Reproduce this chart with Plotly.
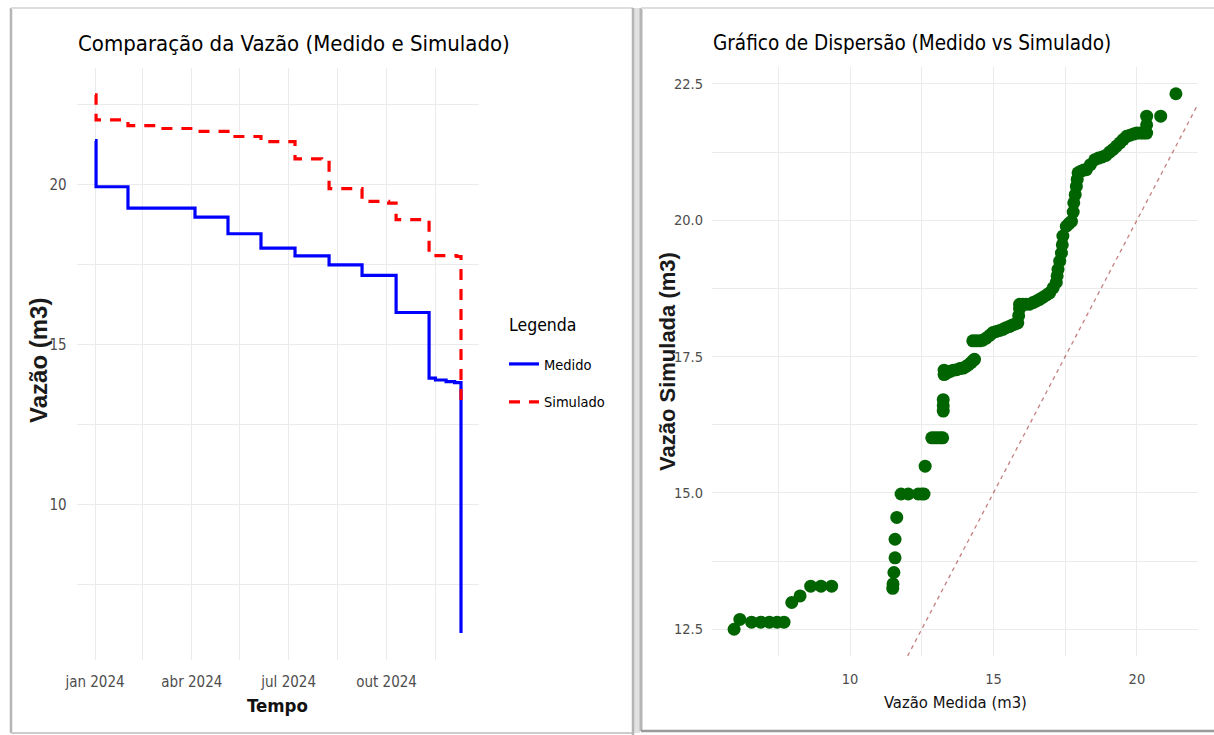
import plotly.graph_objects as go
import pandas as pd

# ---------------- Data: left panel (step series) ----------------
medido_datas = ["2024-01-01", "2024-01-02", "2024-02-01", "2024-04-04", "2024-05-05",
                "2024-06-05", "2024-07-07", "2024-08-08", "2024-09-08", "2024-10-10",
                "2024-11-10", "2024-11-16", "2024-11-26", "2024-12-04", "2024-12-10"]
medido_vazao = [21.38, 19.94, 19.27, 18.99, 18.47,
                18.02, 17.78, 17.50, 17.17, 16.01,
                13.96, 13.90, 13.85, 13.82, 5.99]

simulado_datas = ["2024-01-01", "2024-01-02", "2024-02-01", "2024-03-03", "2024-04-04",
                  "2024-05-05", "2024-06-05", "2024-07-07", "2024-08-01", "2024-08-08",
                  "2024-09-08", "2024-10-03", "2024-10-10", "2024-11-10", "2024-12-06",
                  "2024-12-10"]
simulado_vazao = [22.81, 22.03, 21.85, 21.76, 21.67,
                  21.51, 21.35, 20.81, 20.75, 19.88,
                  19.48, 19.43, 18.91, 17.79, 17.76,
                  13.03]

# ---------------- Data: right panel (scatter) ----------------
disp_medida = [5.96, 6.16, 6.57, 6.89, 7.19, 7.46, 7.70, 7.97, 8.26, 8.63, 8.99, 9.36,
               11.49, 11.50, 11.53, 11.57, 11.57, 11.63,
               11.78, 12.03, 12.38, 12.50, 12.58, 12.62,
               12.85, 12.95, 13.05, 13.15, 13.23,
               13.25, 13.25, 13.25,
               13.28, 13.28, 13.38, 13.49, 13.60, 13.72, 13.83, 13.95, 14.05, 14.13, 14.22, 14.30, 14.34,
               14.28, 14.40, 14.52, 14.63, 14.75, 14.87, 14.98, 15.10, 15.22, 15.33, 15.44, 15.55,
               15.66, 15.77, 15.85, 15.88, 15.91, 15.91,
               16.02, 16.14, 16.26, 16.38, 16.50, 16.61, 16.73, 16.85, 16.96, 17.08, 17.19,
               17.22, 17.25, 17.31, 17.37, 17.40, 17.42, 17.54, 17.63, 17.72,
               17.78, 17.80, 17.85, 17.89, 17.92, 17.95,
               18.05, 18.15, 18.24, 18.38, 18.53, 18.66, 18.79, 18.92, 19.05, 19.17, 19.29,
               19.41, 19.52, 19.64, 19.76, 19.88, 19.99, 20.11, 20.23, 20.34,
               20.34, 20.34, 20.83, 21.36]
disp_simulada = [12.50, 12.68, 12.63, 12.63, 12.63, 12.63, 12.63, 12.99, 13.11, 13.29, 13.29, 13.29,
                 13.25, 13.33, 13.54, 13.81, 14.15, 14.55,
                 14.98, 14.98, 14.98, 14.98, 14.98, 15.49,
                 16.01, 16.01, 16.01, 16.01, 16.01,
                 16.50, 16.60, 16.71,
                 17.17, 17.25, 17.20, 17.23, 17.25, 17.26, 17.28, 17.29, 17.32, 17.35, 17.39, 17.43, 17.45,
                 17.79, 17.79, 17.79, 17.80, 17.84, 17.89, 17.94, 17.96, 17.98, 18.00, 18.03, 18.05,
                 18.08, 18.10, 18.12, 18.25, 18.38, 18.46,
                 18.46, 18.46, 18.46, 18.49, 18.52, 18.55, 18.59, 18.63, 18.67, 18.76, 18.86,
                 18.98, 19.10, 19.25, 19.40, 19.55, 19.71, 19.89, 19.94, 19.98,
                 20.15, 20.32, 20.47, 20.62, 20.75, 20.87,
                 20.90, 20.92, 20.93, 21.02, 21.11, 21.14, 21.16, 21.19, 21.25, 21.30, 21.36,
                 21.42, 21.48, 21.54, 21.56, 21.58, 21.60, 21.60, 21.60, 21.60,
                 21.75, 21.91, 21.91, 22.32]

# ---------------- Ticks ----------------
tempo_tickvals = ["2024-01-01", "2024-04-01", "2024-07-01", "2024-10-01"]
tempo_ticktext = ["jan 2024", "abr 2024", "jul 2024", "out 2024"]
tempo_minor = ["2024-02-15", "2024-05-16", "2024-08-16", "2024-11-16"]
vazao_tickvals = [10, 15, 20]
vazao_minor = [7.5, 12.5, 17.5, 22.5]
disp_x_tickvals = [10, 15, 20]
disp_x_minor = [7.5, 12.5, 17.5]
disp_y_tickvals = [12.5, 15.0, 17.5, 20.0, 22.5]
disp_y_ticktext = ["12.5", "15.0", "17.5", "20.0", "22.5"]
disp_y_minor = [13.75, 16.25, 18.75, 21.25]

# ---------------- Layout helpers ----------------
W, H = 1214, 735
def fx(p):
    return p / W
def fy(p):
    return 1 - p / H

NARROW = "Liberation Sans Narrow, Arial Narrow, DejaVu Sans Condensed, Liberation Sans, sans-serif"
WIDE = "Liberation Sans, Arial, sans-serif"
GRID = "#EBEBEB"
TICKC = "#4D4D4D"

def expand(lo, hi, f=0.05):
    s = hi - lo
    return [lo - f * s, hi + f * s]

all_dates = pd.to_datetime(medido_datas + simulado_datas)
d0, d1 = all_dates.min(), all_dates.max()
dspan = d1 - d0
left_xrange = [d0 - 0.05 * dspan, d1 + 0.05 * dspan]
left_yrange = expand(min(medido_vazao + simulado_vazao), max(medido_vazao + simulado_vazao))
right_xrange = expand(min(disp_medida), max(disp_medida))
right_yrange = expand(min(disp_simulada), max(disp_simulada))

fig = go.Figure()

fig.add_trace(go.Scatter(
    x=pd.to_datetime(medido_datas), y=medido_vazao, mode="lines", line_shape="hv",
    line=dict(color="#0000FF", width=3.2), name="Medido", legendgroup="med",
    xaxis="x", yaxis="y"))
fig.add_trace(go.Scatter(
    x=pd.to_datetime(simulado_datas), y=simulado_vazao, mode="lines", line_shape="hv",
    line=dict(color="#FF0000", width=3.2, dash="11px,9px"), name="Simulado", legendgroup="sim",
    xaxis="x", yaxis="y"))

fig.add_trace(go.Scatter(
    x=disp_medida, y=disp_simulada, mode="markers",
    marker=dict(color="#006400", size=13, line=dict(width=0)),
    showlegend=False, xaxis="x2", yaxis="y2"))

ident_lo = max(right_xrange[0], right_yrange[0])
ident_hi = min(right_xrange[1], right_yrange[1])
fig.add_trace(go.Scatter(
    x=[ident_lo, ident_hi], y=[ident_lo, ident_hi], mode="lines",
    line=dict(color="rgba(139,0,0,0.5)", width=1.3, dash="4px,4px"),
    showlegend=False, xaxis="x2", yaxis="y2"))

def axis_common(size):
    return dict(showline=False, zeroline=False, ticks="", gridcolor=GRID, gridwidth=1.1,
                automargin=False, tickfont=dict(family=NARROW, size=size, color=TICKC))

fig.update_layout(
    width=W, height=H, autosize=False,
    margin=dict(l=0, r=0, t=0, b=0),
    paper_bgcolor="white", plot_bgcolor="white",
    xaxis=dict(domain=[fx(76.7), fx(479.3)], anchor="y", type="date", range=left_xrange,
               tickmode="array", tickvals=tempo_tickvals, ticktext=tempo_ticktext,
               ticklabelstandoff=11,
               minor=dict(tickmode="array", tickvals=tempo_minor, showgrid=True,
                          gridcolor=GRID, gridwidth=0.8),
               **axis_common(15)),
    yaxis=dict(domain=[fy(660), fy(68)], anchor="x", range=left_yrange,
               tickmode="array", tickvals=vazao_tickvals, ticklabelstandoff=9,
               minor=dict(tickmode="array", tickvals=vazao_minor, showgrid=True,
                          gridcolor=GRID, gridwidth=0.8),
               **axis_common(15)),
    xaxis2=dict(domain=[fx(712), fx(1198)], anchor="y2", range=right_xrange,
                tickmode="array", tickvals=disp_x_tickvals, ticklabelstandoff=12,
                minor=dict(tickmode="array", tickvals=disp_x_minor, showgrid=True,
                           gridcolor=GRID, gridwidth=0.8),
                **axis_common(14.5)),
    yaxis2=dict(domain=[fy(656), fy(67)], anchor="x2", range=right_yrange,
                tickmode="array", tickvals=disp_y_tickvals, ticktext=disp_y_ticktext,
                ticklabelstandoff=8,
                minor=dict(tickmode="array", tickvals=disp_y_minor, showgrid=True,
                           gridcolor=GRID, gridwidth=0.8),
                **axis_common(14.5)),
    legend=dict(x=fx(504), y=fy(348), xanchor="left", yanchor="top",
                font=dict(family=NARROW, size=14.5, color="black"),
                bgcolor="rgba(0,0,0,0)", tracegroupgap=16, itemwidth=30),
)

annotations = [
    dict(text="Comparação da Vazão (Medido e Simulado)", x=fx(76), y=fy(43),
         xanchor="left", yanchor="middle", font=dict(family=NARROW, size=22, color="black")),
    dict(text="Gráfico de Dispersão (Medido vs Simulado)", x=fx(711), y=fy(43),
         xanchor="left", yanchor="middle", font=dict(family=NARROW, size=20.5, color="black")),
    dict(text="Legenda", x=fx(507), y=fy(325),
         xanchor="left", yanchor="middle", font=dict(family=NARROW, size=17.5, color="black")),
    dict(text="Vazão (m3)", x=fx(38), y=fy(361), textangle=-90,
         xanchor="center", yanchor="middle", font=dict(family=WIDE, size=24, color="#1a1a1a", weight="bold")),
    dict(text="Tempo", x=fx(277), y=fy(705),
         xanchor="center", yanchor="middle", font=dict(family=NARROW, size=18.5, color="#111111", weight="bold")),
    dict(text="Vazão Medida (m3)", x=fx(955), y=fy(702),
         xanchor="center", yanchor="middle", font=dict(family=NARROW, size=16.5, color="#111111")),
    dict(text="Vazão Simulada (m3)", x=fx(667), y=fy(362), textangle=-90,
         xanchor="center", yanchor="middle", font=dict(family=WIDE, size=22, color="#1a1a1a", weight="bold")),
]
for a in annotations:
    a.update(xref="paper", yref="paper", showarrow=False)
fig.update_layout(annotations=annotations)

# screenshot panel frames
shapes = [
    dict(type="rect", x0=fx(633), x1=fx(640), y0=fy(733), y1=fy(8), fillcolor="#E2E2E2", line=dict(width=0)),
    dict(type="line", x0=fx(11), x1=fx(11), y0=fy(733), y1=fy(8), line=dict(color="#B5B5B5", width=2.5)),
    dict(type="line", x0=fx(11), x1=fx(633), y0=fy(8), y1=fy(8), line=dict(color="#DDDDDD", width=2)),
    dict(type="line", x0=fx(11), x1=fx(633), y0=fy(733), y1=fy(733), line=dict(color="#CCCCCC", width=2)),
    dict(type="line", x0=fx(633), x1=fx(633), y0=fy(735), y1=fy(8), line=dict(color="#B5B5B5", width=2.5)),
    dict(type="line", x0=fx(641), x1=fx(641), y0=fy(731), y1=fy(8), line=dict(color="#B5B5B5", width=3)),
    dict(type="line", x0=fx(641), x1=fx(1214), y0=fy(8), y1=fy(8), line=dict(color="#DDDDDD", width=2)),
    dict(type="line", x0=fx(641), x1=fx(1214), y0=fy(731), y1=fy(731), line=dict(color="#9A9A9A", width=2.5)),
]
for s in shapes:
    s.update(xref="paper", yref="paper", layer="below")
fig.update_layout(shapes=shapes)

fig.write_html("out.html", config={"displayModeBar": False},
               post_script="document.body.style.margin='0px';document.body.style.overflow='hidden';")
